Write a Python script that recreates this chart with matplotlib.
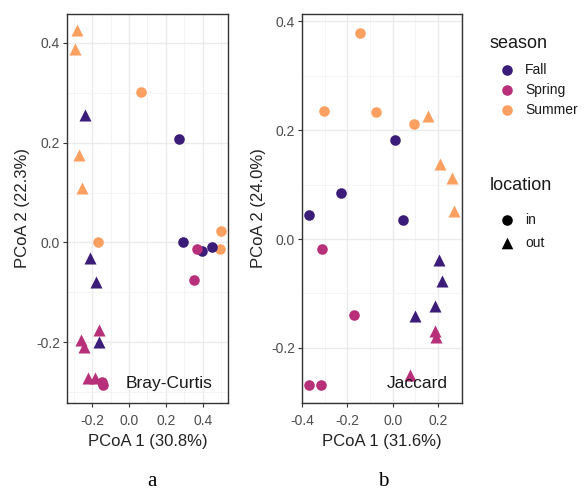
import numpy as np
import matplotlib.pyplot as plt

plt.rcParams['font.family'] = ['Liberation Sans', 'DejaVu Sans']
plt.rcParams['axes.unicode_minus'] = False

seasons = ["Fall", "Spring", "Summer"]
locations = ["in", "out"]
colors = {"Fall": "#3b1c78", "Spring": "#b8307a", "Summer": "#fca062"}
shapes = {"in": "o", "out": "^"}

# Bray-Curtis ordination (panel a)
bc_x = [-0.283, -0.293, -0.272, -0.255,
        0.065, 0.500, -0.170, 0.490,
        0.272, 0.293, 0.397, 0.450,
        -0.239, -0.212, -0.180, -0.163,
        0.370, 0.353, -0.147, -0.141,
        -0.163, -0.262, -0.245, -0.223, -0.185]
bc_y = [0.426, 0.388, 0.176, 0.110,
        0.302, 0.022, 0.000, -0.014,
        0.208, 0.000, -0.018, -0.010,
        0.256, -0.032, -0.080, -0.200,
        -0.014, -0.076, -0.280, -0.286,
        -0.176, -0.196, -0.210, -0.272, -0.272]
bc_season = ["Summer"] * 8 + ["Fall"] * 8 + ["Spring"] * 9
bc_loc = ["out"] * 4 + ["in"] * 4 + ["in"] * 4 + ["out"] * 4 + ["in"] * 4 + ["out"] * 5

# Jaccard ordination (panel b)
jac_x = [-0.145, -0.304, -0.075, 0.093,
         0.154, 0.207, 0.264, 0.269,
         0.009, -0.229, -0.370, 0.044,
         0.203, 0.216, 0.189, 0.097,
         -0.313, -0.172, -0.370, -0.317,
         0.187, 0.190, 0.075]
jac_y = [0.378, 0.235, 0.233, 0.211,
         0.226, 0.138, 0.112, 0.051,
         0.182, 0.085, 0.044, 0.035,
         -0.039, -0.077, -0.123, -0.141,
         -0.018, -0.139, -0.268, -0.268,
         -0.169, -0.180, -0.250]
jac_season = ["Summer"] * 8 + ["Fall"] * 8 + ["Spring"] * 7
jac_loc = ["in"] * 4 + ["out"] * 4 + ["in"] * 4 + ["out"] * 4 + ["in"] * 4 + ["out"] * 3

W, H = 587, 491
fig = plt.figure(figsize=(W / 100, H / 100), dpi=100)


def panel(rect, xs, ys, season, loc, xlim, ylim, xticks, yticks, xlab, ylab, note, note_xy):
    ax = fig.add_axes(rect)
    for x, y, s, l in zip(xs, ys, season, loc):
        ax.scatter(x, y, c=colors[s], marker=shapes[l], s=58 if l == "in" else 75,
                   linewidths=0, zorder=3)
    ax.set_xticks(xticks)
    ax.set_yticks(yticks)
    ax.set_xticklabels([f"{t:.1f}" for t in xticks])
    ax.set_yticklabels([f"{t:.1f}" for t in yticks])
    ax.set_xticks(np.arange(xticks[0] - 0.1, xticks[-1] + 0.15, 0.2), minor=True)
    ax.set_yticks(np.arange(yticks[0] - 0.1, yticks[-1] + 0.15, 0.2), minor=True)
    ax.set_xlim(*xlim)
    ax.set_ylim(*ylim)
    ax.grid(which="major", color="#ebebeb", lw=1.0, zorder=0)
    ax.grid(which="minor", color="#f3f3f3", lw=0.6, zorder=0)
    ax.set_axisbelow(True)
    ax.tick_params(which="major", length=3, width=0.8, color="#333333",
                   labelcolor="#4d4d4d", labelsize=10, pad=2)
    ax.tick_params(axis="x", which="major", pad=5)
    ax.tick_params(which="minor", length=0)
    for sp in ax.spines.values():
        sp.set_color("#333333")
        sp.set_linewidth(1.0)
    ax.set_xlabel(xlab, fontsize=12, color="#222222", labelpad=4)
    ax.set_ylabel(ylab, fontsize=12, color="#222222", labelpad=4)
    ax.text(note_xy[0], note_xy[1], note, fontsize=12.5, color="#1a1a1a",
            ha="center", va="center", zorder=4)
    return ax


panel([67 / W, 88 / H, 161 / W, 389 / H], bc_x, bc_y, bc_season, bc_loc,
      (-0.336, 0.536), (-0.322, 0.458), [-0.2, 0.0, 0.2, 0.4], [-0.2, 0.0, 0.2, 0.4],
      "PCoA 1 (30.8%)", "PCoA 2 (22.3%)", "Bray-Curtis", (0.217, -0.282))

panel([302 / W, 88 / H, 160 / W, 389 / H], jac_x, jac_y, jac_season, jac_loc,
      (-0.40, 0.306), (-0.301, 0.413), [-0.4, -0.2, 0.0, 0.2], [-0.2, 0.0, 0.2, 0.4],
      "PCoA 1 (31.6%)", "PCoA 2 (24.0%)", "Jaccard", (0.108, -0.266))

# legends drawn on an overlay in pixel units (origin top-left)
lg = fig.add_axes([0, 0, 1, 1], facecolor="none")
lg.set_xlim(0, W)
lg.set_ylim(H, 0)
lg.axis("off")

lg.text(490, 43, "season", fontsize=13, color="#1a1a1a", va="center")
for i, s in enumerate(seasons):
    yy = 70 + 20 * i
    lg.scatter(507, yy, c=colors[s], marker="o", s=58, linewidths=0)
    lg.text(525, yy, s, fontsize=10, color="#1a1a1a", va="center")

lg.text(490, 185, "location", fontsize=13, color="#1a1a1a", va="center")
for i, l in enumerate(locations):
    yy = 220 + 23 * i
    lg.scatter(507, yy, c="black", marker=shapes[l], s=58 if l == "in" else 70, linewidths=0)
    lg.text(525, yy, l, fontsize=10, color="#1a1a1a", va="center")

lg.text(152, H - 0.5, "a", family="Liberation Serif", fontsize=15, ha="center", va="bottom")
lg.text(383, H - 0.5, "b", family="Liberation Serif", fontsize=15, ha="center", va="bottom")

fig.savefig("out.png", dpi=100)
